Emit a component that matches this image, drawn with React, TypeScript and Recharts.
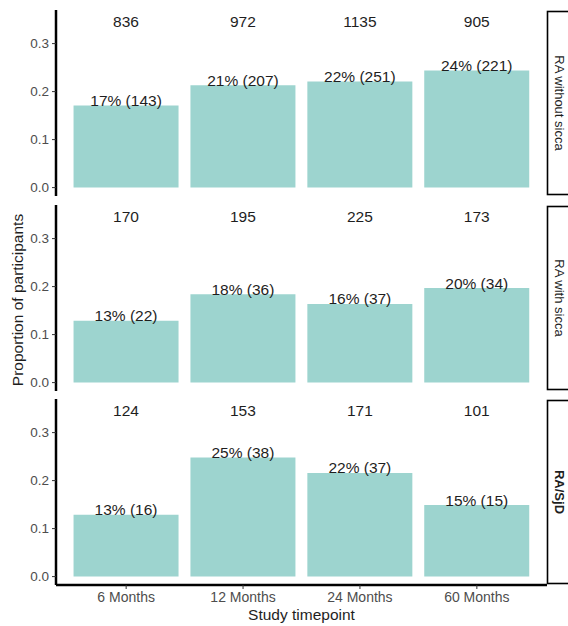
import React from 'react';
import { BarChart, Bar, XAxis, YAxis, LabelList } from 'recharts';

// Study timepoints shown along the shared x axis
const timepoints = ['6 Months', '12 Months', '24 Months', '60 Months'];

// RA without sicca
const totalsWithoutSicca = [836, 972, 1135, 905];
const casesWithoutSicca = [143, 207, 251, 221];
const proportionWithoutSicca = [0.171, 0.213, 0.221, 0.244];

// RA with sicca
const totalsWithSicca = [170, 195, 225, 173];
const casesWithSicca = [22, 36, 37, 34];
const proportionWithSicca = [0.129, 0.184, 0.164, 0.197];

// RA/SjD
const totalsSjD = [124, 153, 171, 101];
const casesSjD = [16, 38, 37, 15];
const proportionSjD = [0.129, 0.248, 0.216, 0.149];

const panelNames = ['RA without sicca', 'RA with sicca', 'RA/SjD'];
const yTicks = [0, 0.1, 0.2, 0.3];

const FONT = '"Liberation Sans", Arial, Helvetica, sans-serif';
const BAR_FILL = '#9dd4cf';
const WIDTH = 568;
const HEIGHT = 626;
const PLOT_LEFT = 56;
const PLOT_RIGHT = 547;
const PANEL_H = 186;
const PANEL_TOPS = [10, 205, 399];
const X_AXIS_H = 32;

type Row = { timepoint: string; proportion: number; total: number; label: string };

const buildRows = (totals: number[], cases: number[], props: number[]): Row[] =>
  timepoints.map((t, i) => ({
    timepoint: t,
    proportion: props[i],
    total: totals[i],
    label: `${Math.round(props[i] * 100)}% (${cases[i]})`,
  }));

const panels = [
  buildRows(totalsWithoutSicca, casesWithoutSicca, proportionWithoutSicca),
  buildRows(totalsWithSicca, casesWithSicca, proportionWithSicca),
  buildRows(totalsSjD, casesSjD, proportionSjD),
];

const PercentLabel = (p: any) => {
  const { x, y, width, value } = p;
  return (
    <text
      x={Number(x) + Number(width) / 2}
      y={Number(y) + 0.5}
      textAnchor="middle"
      fontSize={15.5}
      fontFamily={FONT}
      fill="#1e1e1e"
    >
      {value}
    </text>
  );
};

const TotalLabel = (p: any) => {
  const { x, width, value } = p;
  return (
    <text
      x={Number(x) + Number(width) / 2}
      y={16.5}
      textAnchor="middle"
      fontSize={15.5}
      fontFamily={FONT}
      fill="#1e1e1e"
    >
      {value}
    </text>
  );
};

const xTickStyle = { fill: '#4d4d4d', fontSize: 14, fontFamily: FONT };
const yTickStyle = { fill: '#4d4d4d', fontSize: 13.5, fontFamily: FONT };

const Panel = ({ rows, showX }: { rows: Row[]; showX: boolean }) => (
  <BarChart
    width={WIDTH}
    height={PANEL_H + (showX ? X_AXIS_H : 0)}
    data={rows}
    margin={{ top: 0, right: WIDTH - PLOT_RIGHT, bottom: 0, left: 0 }}
    barCategoryGap="5%"
  >
    <XAxis
      dataKey="timepoint"
      type="category"
      hide={!showX}
      height={X_AXIS_H}
      padding={{ left: 11.7, right: 11.7 }}
      interval={0}
      axisLine={{ stroke: '#000', strokeWidth: 2.5 }}
      tickLine={{ stroke: '#333', strokeWidth: 1 }}
      tickSize={4}
      tickMargin={3}
      tick={xTickStyle}
    />
    <YAxis
      type="number"
      width={PLOT_LEFT}
      domain={[-0.0175, 0.37]}
      allowDataOverflow
      ticks={yTicks}
      tickFormatter={(v: number) => v.toFixed(1)}
      axisLine={{ stroke: '#000', strokeWidth: 2.5 }}
      tickLine={{ stroke: '#333', strokeWidth: 1 }}
      tickSize={4}
      tickMargin={3}
      tick={yTickStyle}
    />
    <Bar dataKey="proportion" fill={BAR_FILL} isAnimationActive={false}>
      <LabelList dataKey="label" content={PercentLabel} />
      <LabelList dataKey="total" content={TotalLabel} />
    </Bar>
  </BarChart>
);

export default function App() {
  return (
    <div
      style={{
        position: 'absolute',
        top: 0,
        left: 0,
        width: WIDTH,
        height: HEIGHT,
        background: '#fff',
        fontFamily: FONT,
        overflow: 'hidden',
      }}
    >
      {panels.map((rows, i) => (
        <div key={panelNames[i]} style={{ position: 'absolute', top: PANEL_TOPS[i], left: 0 }}>
          <Panel rows={rows} showX={i === panels.length - 1} />
        </div>
      ))}
      <svg
        width={WIDTH}
        height={HEIGHT}
        style={{ position: 'absolute', top: 0, left: 0, pointerEvents: 'none' }}
      >
        {panelNames.map((name, i) => {
          const cy = PANEL_TOPS[i] + PANEL_H / 2;
          return (
            <g key={name}>
              <rect
                x={PLOT_RIGHT + 0.5}
                y={PANEL_TOPS[i] + 1.5}
                width={30}
                height={PANEL_H - 3}
                fill="#fff"
                stroke="#000"
                strokeWidth={1.6}
              />
              <text
                x={559}
                y={cy}
                transform={`rotate(90, 559, ${cy})`}
                textAnchor="middle"
                dominantBaseline="central"
                fontSize={13}
                fontFamily={FONT}
                fontWeight={i === 2 ? 'bold' : 'normal'}
                fill="#1e1e1e"
              >
                {name}
              </text>
            </g>
          );
        })}
        <text
          x={17}
          y={300}
          transform="rotate(-90, 17, 300)"
          textAnchor="middle"
          dominantBaseline="central"
          fontSize={15.5}
          fontFamily={FONT}
          fill="#1e1e1e"
        >
          Proportion of participants
        </text>
        <text
          x={(PLOT_LEFT + PLOT_RIGHT) / 2}
          y={620}
          textAnchor="middle"
          fontSize={15.5}
          fontFamily={FONT}
          fill="#1e1e1e"
        >
          Study timepoint
        </text>
      </svg>
    </div>
  );
}
